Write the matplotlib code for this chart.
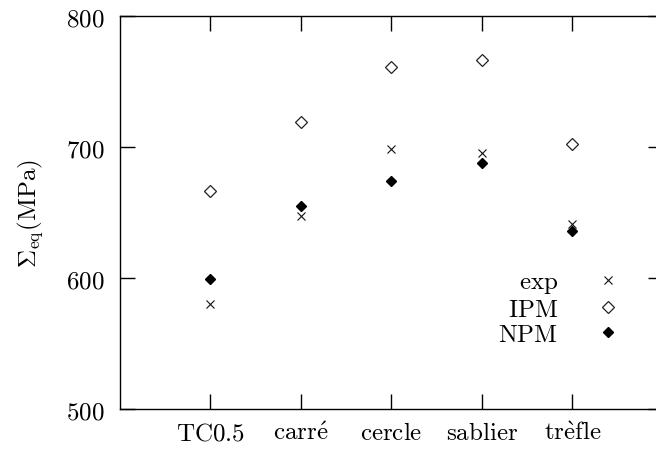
import matplotlib
matplotlib.use("Agg")
import matplotlib.pyplot as plt

plt.rcParams['mathtext.fontset'] = 'cm'

categories = [r"$\mathrm{TC0.5}$", r"$\mathrm{carr\acute{e}}$", r"$\mathrm{cercle}$",
              r"$\mathrm{sablier}$", r"$\mathrm{tr\grave{e}fle}$"]
exp_vals = [580, 647, 698, 695, 641]
ipm_vals = [666, 719, 761, 766, 702]
npm_vals = [599, 655, 674, 688, 636]
yticks = [500, 600, 700, 800]
ytick_labels = [r"$500$", r"$600$", r"$700$", r"$800$"]

xpos = list(range(1, len(categories) + 1))

fig = plt.figure(figsize=(6.56, 4.52), dpi=100)
ax = fig.add_axes([0.1829, 0.0929, 0.8277, 0.870])

ax.plot(xpos, exp_vals, linestyle='none', marker='x', color='#111111',
        markersize=5.5, markeredgewidth=0.8, label=r"$\mathrm{exp}$")
ax.plot(xpos, ipm_vals, linestyle='none', marker='D', markerfacecolor='white',
        markeredgecolor='#222222', markersize=6, markeredgewidth=0.9,
        label=r"$\mathrm{IPM}$")
ax.plot(xpos, npm_vals, linestyle='none', marker='D', color='black',
        markersize=5.5, label=r"$\mathrm{NPM}$")

ax.set_xlim(0, 6)
ax.set_ylim(500, 800)
ax.set_xticks(xpos, categories)
ax.set_yticks(yticks, ytick_labels)
ax.tick_params(direction='in', length=10.8, width=1, labelsize=18,
               top=True, right=True)
ax.tick_params(axis='y', pad=11)
ax.tick_params(axis='x', pad=8)
for s in ax.spines.values():
    s.set_linewidth(1)

ax.set_ylabel(r"$\Sigma_{\mathrm{eq}}\mathrm{(MPa)}$", fontsize=18, labelpad=15)

ax.legend(loc='upper right', bbox_to_anchor=(0.957, 0.355), frameon=False,
          markerfirst=False, fontsize=18, handlelength=2.5, handletextpad=0.76,
          labelspacing=0.05, borderpad=0, borderaxespad=0)

fig.savefig("out.png", dpi=100)
